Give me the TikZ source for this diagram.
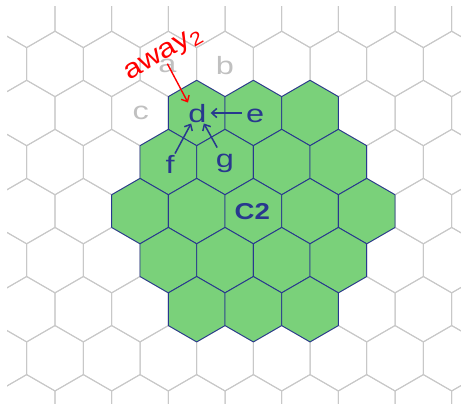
\documentclass[tikz,border=0pt]{standalone}
\usepackage{fontspec}
\setmainfont{Liberation Sans}
\usepackage{tikz}
\usetikzlibrary{arrows.meta}

\definecolor{gridgray}{RGB}{200,200,200}
\definecolor{cellgreen}{RGB}{122,209,122}
\definecolor{cellblue}{RGB}{40,56,142}
\definecolor{ghostgray}{RGB}{192,192,192}

\begin{document}
\begin{tikzpicture}[
    % one unit is one pixel of the target, y pointing down
    x=1pt, y=-1pt,
    gridline/.style={draw=gridgray, line width=1pt},
    cluster/.style={fill=cellgreen, draw=cellblue, line width=0.9pt, line join=round},
    celltext/.style={
        text=cellblue, anchor=base, xscale=1.3,
        inner xsep=3pt, inner ysep=1pt, text height=18.5pt, text depth=0pt,
        font=\fontsize{25}{30}\selectfont
    },
    ghost/.style={celltext, text=ghostgray},
    flow/.style={-{Straight Barb[length=5pt,width=9pt]}, draw=cellblue, line width=1.5pt},
    away/.style={-{Straight Barb[length=5pt,width=9pt]}, draw=red, line width=1.4pt}
]
  \useasboundingbox (0,0) rectangle (461,404);
  \clip (7,7) rectangle (461,404);

  % Background: the full hex grid (also names every cell centre)
  \foreach \r in {0,...,8}
    \foreach \k in {0,...,8} {
      \pgfmathsetmacro\cx{26.67+56.67*\k-28.33*mod(\r,2)}
      \pgfmathsetmacro\cy{14.9+49.05*\r}
      \coordinate (h\r-\k) at (\cx,\cy);
      \draw[gridline] (\cx,\cy) +(30:32.7) -- +(90:32.7) -- +(150:32.7)
        -- +(210:32.7) -- +(270:32.7) -- +(330:32.7) -- cycle;
    }

  % Cluster C2: the 19 green cells
  \foreach \r/\k in {2/3,2/4,2/5, 3/3,3/4,3/5,3/6, 4/2,4/3,4/4,4/5,4/6,
                     5/3,5/4,5/5,5/6, 6/3,6/4,6/5}
    \draw[cluster] (h\r-\k) +(30:32.7) -- +(90:32.7) -- +(150:32.7)
      -- +(210:32.7) -- +(270:32.7) -- +(330:32.7) -- cycle;

  % Cell labels (placed on their baselines)
  \node[ghost] (a) at ([shift={(-1,9)}]h1-3) {a};
  \node[ghost] (b) at ([shift={(0,10.3)}]h1-4) {b};
  \node[ghost] (c) at ([shift={(0.8,7)}]h2-2) {c};
  \node[celltext] (d) at ([shift={(0.8,9.25)}]h2-3) {d};
  \node[celltext] (e) at ([shift={(1.7,9.25)}]h2-4) {e};
  \node[celltext] (f) at ([shift={(1.7,11.2)}]h3-3) {f};
  \node[celltext] (g) at ([shift={(0,5.2)}]h3-4) {g};
  \node[celltext, xscale=1.2/1.3, font=\bfseries\fontsize{23}{28}\selectfont]
    (ctwo) at ([shift={(-1,8.2)}]h4-4) {C2};

  % Neighbours pointing into d
  \draw[away] (a.center) -- (d.125);
  \draw[flow] (e) -- (d);
  \draw[flow] (f.70) -- (d.-115);
  \draw[flow] (g.120) -- (d.-65);

  \node[text=red, rotate=30, xscale=1.15, inner sep=0pt, font=\fontsize{27}{32}\selectfont]
    (awaytext) at (164,55) {away\textsubscript{2}};

\end{tikzpicture}
\end{document}
